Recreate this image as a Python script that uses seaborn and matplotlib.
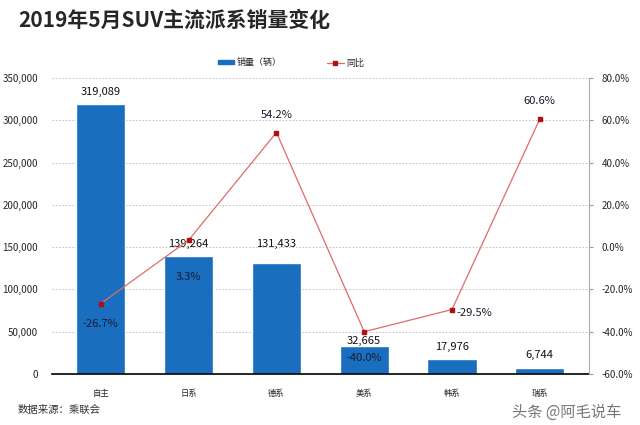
import numpy as np
import pandas as pd
import matplotlib
matplotlib.use('Agg')
import matplotlib.pyplot as plt
import seaborn as sns
from matplotlib.ticker import FuncFormatter, MultipleLocator
from matplotlib.lines import Line2D
from matplotlib.patches import Patch

sns.set_style('white')
plt.rcParams['font.family'] = ['Noto Sans CJK SC', 'DejaVu Sans']

categories = ['自主', '日系', '德系', '美系', '韩系', '瑞系']
sales = [319089, 139264, 131433, 32665, 17976, 6744]
yoy = [-26.7, 3.3, 54.2, -40.0, -29.5, 60.6]

df = pd.DataFrame({'派系': categories, '销量': sales, '同比': yoy})

bar_color = '#1a6ebf'
line_color = '#e06b6b'
marker_color = '#b01010'

fig = plt.figure(figsize=(6.4, 4.25), dpi=100)
ax = fig.add_axes([0.081, 0.12, 0.839, 0.6965])

sns.barplot(data=df, x='派系', y='销量', color=bar_color, width=0.56,
            saturation=1, ax=ax)
ax.set_ylim(0, 350000)
ax.yaxis.set_major_locator(MultipleLocator(50000))
ax.yaxis.set_major_formatter(FuncFormatter(lambda v, p: f'{int(v):,}'))
ax.set_xlabel('')
ax.set_ylabel('')
ax.tick_params(axis='y', labelsize=7, length=0, pad=10)
ax.tick_params(axis='x', labelsize=6, length=0, pad=11)
ax.grid(axis='y', linestyle=(0, (2, 2)), color='#bbbbbb', linewidth=0.6)
ax.set_axisbelow(True)
for s in ['left', 'top', 'right']:
    ax.spines[s].set_visible(False)
ax.spines['bottom'].set_color('black')
ax.spines['bottom'].set_linewidth(1.2)

# label offsets in pixels above the bar top (label centre)
bar_off = [12, 12, 19, 5, 12, 13]
for i, v in enumerate(sales):
    ax.annotate(f'{v:,}', (i, v), xytext=(0, bar_off[i]),
                textcoords='offset pixels', ha='center', va='center',
                fontsize=8, color='#111111', zorder=5)

ax2 = ax.twinx()
x = np.arange(len(categories))
ax2.plot(x, yoy, color=line_color, linewidth=0.9, marker='s', markersize=3.5,
         markerfacecolor=marker_color, markeredgecolor=marker_color)
ax2.set_ylim(-60, 80)
ax2.yaxis.set_major_locator(MultipleLocator(20))
ax2.yaxis.set_major_formatter(FuncFormatter(lambda v, p: f'{v:.1f}%'))
ax2.tick_params(axis='y', labelsize=7, length=3, color='#999999', pad=6)
for s in ['left', 'top', 'bottom']:
    ax2.spines[s].set_visible(False)
ax2.spines['right'].set_color('#aaaaaa')
ax2.spines['right'].set_linewidth(0.8)

# (dx, dy) in pixels from the point, dy positive = downward
pct_off = [(0, 20), (0, 37), (0, -18), (0, 26), (4, 3), (0, -18)]
for i, v in enumerate(yoy):
    dx, dy = pct_off[i]
    ha = 'left' if dx > 0 else 'center'
    ax2.annotate(f'{v:.1f}%', (i, v), xytext=(dx, -dy),
                 textcoords='offset pixels', ha=ha, va='center',
                 fontsize=8, color='#1a1a2e')

fig.text(0.028, 0.953, '2019年5月SUV主流派系销量变化', fontsize=15,
         fontweight='bold', ha='left', va='center')

handles = [Patch(color=bar_color, label='销量（辆）'),
           Line2D([0], [0], color=line_color, marker='s', markersize=3,
                  markerfacecolor=marker_color, markeredgecolor=marker_color,
                  linewidth=0.9, label='同比')]
fig.legend(handles=handles, loc='center', bbox_to_anchor=(0.455, 0.852),
           ncol=2, frameon=False, fontsize=6.5, columnspacing=5,
           handlelength=1.8, handleheight=0.35, handletextpad=0.3)

fig.text(0.028, 0.035, '数据来源：乘联会', fontsize=7.5, color='#333333',
         ha='left', va='center')
fig.text(0.8, 0.03, '头条 @阿毛说车', fontsize=11, color='#555555',
         ha='left', va='center', alpha=0.8)

fig.savefig('out.png', dpi=100)
